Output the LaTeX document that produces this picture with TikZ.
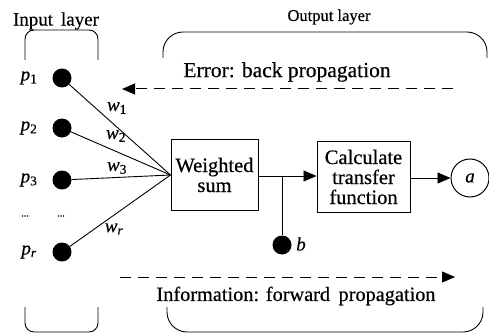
\documentclass[tikz,border=0pt]{standalone}
\usepackage{fontspec}
\setmainfont{Liberation Serif}[FakeBold=0.5]
\usetikzlibrary{arrows.meta}
\tikzset{
  dot/.style={circle,fill=black,inner sep=0pt,minimum size=19pt},
  boxnode/.style={draw,line width=1pt,align=center,inner sep=2pt,font=\fontsize{20.5}{20}\selectfont},
  lbl/.style={font=\fontsize{19}{20}\selectfont,inner sep=0pt},
  mlbl/.style={font=\fontsize{19}{18}\selectfont\itshape,inner sep=0pt},
  conn/.style={line width=0.9pt},
  tipped/.style={-{Triangle[length=13pt,width=11pt]}},
  dashline/.style={dashed,dash pattern=on 11pt off 7pt,line width=1pt},
  brace/.style={line width=0.9pt}
}
\begin{document}
\begin{tikzpicture}[x=1pt,y=-1pt]
\useasboundingbox (0,0) rectangle (489,334);
% brackets
\draw[brace,rounded corners=9pt] (25,60) -- (25,30) -- (98,30) -- (98,60);
\draw[brace,rounded corners=9pt] (25,307) -- (25,332) -- (98,332) -- (98,307);
\draw[brace,rounded corners=20pt] (163,58) -- (163,32) -- (487,32) -- (487,58);
\draw[brace,rounded corners=20pt] (167,307) -- (167,332) -- (483,332) -- (483,307);
% titles
\node[lbl] (inlayer) at (56,21) {Input\, layer};
\node[lbl,font=\fontsize{16.5}{18}\selectfont] (outlayer) at (329,17) {Output layer};
\node[lbl,font=\fontsize{21.5}{20}\selectfont] (err) at (287,72) {Error: back propagation};
\node[lbl,font=\fontsize{20.3}{20}\selectfont] (info) at (296,296) {Information: forward\, propagation};
% input nodes
\node[dot] (in1) at (62,78) {};
\node[dot] (in2) at (62,128) {};
\node[dot] (in3) at (62,180) {};
\node[dot] (inr) at (62,252) {};
\node[mlbl] (p1) at (29,78) {p\textsubscript{\upshape 1}};
\node[mlbl] (p2) at (29,128) {p\textsubscript{\upshape 2}};
\node[mlbl] (p3) at (29,180) {p\textsubscript{\upshape 3}};
\node[mlbl] (pr) at (29,252) {p\textsubscript{r}};
\node[lbl,font=\fontsize{10}{10}\selectfont] (d1) at (25,216) {...};
\node[lbl,font=\fontsize{10}{10}\selectfont] (d2) at (61,216) {...};
% boxes
\node[boxnode,minimum width=87pt,minimum height=71pt] (ws) at (214.5,175) {Weighted\\sum};
\node[boxnode,minimum width=93pt,minimum height=71pt] (calc) at (363.5,177) {Calculate\\transfer\\function};
\node[circle,draw,line width=1pt,minimum size=38pt,inner sep=0pt,font=\fontsize{19}{19}\selectfont\itshape] (out) at (470,178) {a};
\node[dot] (bias) at (282,245) {};
\node[mlbl] (bl) at (301,244) {b};
% weights
\draw[conn] (in1) -- (ws.west);
\draw[conn] (in2) -- (ws.west);
\draw[conn] (in3) -- (ws.west);
\draw[conn] (inr) -- (ws.west);
\node[mlbl] (w1) at (117,108) {w\textsubscript{\upshape 1}};
\node[mlbl] (w2) at (116,136) {w\textsubscript{\upshape 2}};
\node[mlbl] (w3) at (117,168) {w\textsubscript{\upshape 3}};
\node[mlbl] (wr) at (114,229) {w\textsubscript{r}};
% flow
\coordinate (junc) at (282,176);
\draw[conn,tipped] (ws.east |- junc) -- (calc.west |- junc);
\draw[conn] (junc) -- (bias);
\draw[conn,tipped] (calc.east |- out) -- (out);
% dashed arrows
\coordinate (e1) at (453,89);
\coordinate (e2) at (122,89);
\draw[dashline,tipped] (e1) -- (e2);
\coordinate (f1) at (120,277);
\coordinate (f2) at (455,277);
\draw[dashline,tipped] (f1) -- (f2);
\end{tikzpicture}
\end{document}
